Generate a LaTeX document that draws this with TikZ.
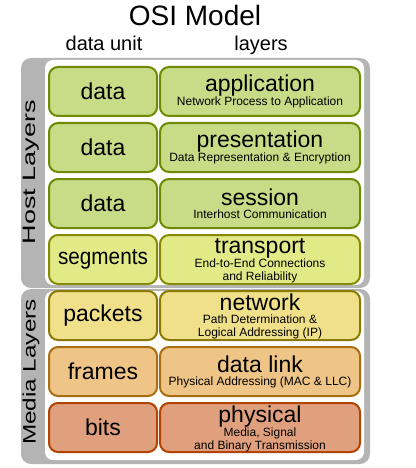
\documentclass[tikz,border=0pt]{standalone}
\usepackage{fontspec}
\setmainfont{Liberation Sans}
\usepackage{tikz}
\usetikzlibrary{positioning}

\definecolor{panelgray}{HTML}{B4B4B4}
\definecolor{appfill}{HTML}{C8DC88}
\definecolor{appline}{HTML}{6E8A00}
\definecolor{trnfill}{HTML}{E2EA88}
\definecolor{trnline}{HTML}{858A00}
\definecolor{netfill}{HTML}{F0E08A}
\definecolor{netline}{HTML}{8A7800}
\definecolor{dlkfill}{HTML}{EEC487}
\definecolor{dlkline}{HTML}{A86E10}
\definecolor{phyfill}{HTML}{E0A07E}
\definecolor{phyline}{HTML}{B04400}

\newcommand{\layertxt}[2]{{\fontsize{23}{17}\selectfont #1}\\#2}

\tikzset{
    unitbox/.style={draw=#1line, fill=#1fill, line width=2pt, rounded corners=9pt,
        minimum width=108pt, minimum height=49pt, inner sep=0pt,
        font=\fontsize{23}{26}\selectfont},
    layerbox/.style={draw=#1line, fill=#1fill, line width=2pt, rounded corners=9pt,
        minimum width=200pt, minimum height=49pt, inner sep=0pt, align=center,
        font=\fontsize{12}{13}\selectfont},
    sidelabel/.style={rotate=90, font=\fontsize{18}{20}\selectfont}
}

\begin{document}
\begin{tikzpicture}[x=1pt, y=-1pt]
    \useasboundingbox (0, 0) rectangle (415, 468);
    % panels
    \fill[panelgray, rounded corners=10pt] (21, 58) rectangle (370, 288);
    \fill[white, rounded corners=8pt] (45, 60) rectangle (364, 285);
    \fill[panelgray, rounded corners=10pt] (21, 289) rectangle (370, 464);
    \fill[white, rounded corners=8pt] (45, 291) rectangle (364, 460);
    % headings
    \node[anchor=base, font=\fontsize{28}{30}\selectfont] (title) at (195, 26) {OSI Model};
    \node[anchor=base, font=\fontsize{20}{22}\selectfont] (unithead) at (104, 51) {data unit};
    \node[anchor=base, font=\fontsize{20}{22}\selectfont] (layerhead) at (261, 51) {layers};
    \node[sidelabel] (host) at (31, 172) {\scalebox{1.5}[1]{Host Layers}};
    \node[sidelabel] (media) at (31, 372) {\scalebox{1.35}[1]{Media Layers}};
    % data units
    \node[unitbox=app] (u7) at (103, 91.5) {data};
    \node[unitbox=app] (u6) at (103, 147.5) {data};
    \node[unitbox=app] (u5) at (103, 203.5) {data};
    \node[unitbox=trn] (u4) at (103, 259.5) {\scalebox{0.9}[1]{segments}};
    \node[unitbox=net] (u3) at (103, 315.5) {packets};
    \node[unitbox=dlk] (u2) at (103, 371.5) {frames};
    \node[unitbox=phy] (u1) at (103, 427.5) {bits};
    % layers
    \node[layerbox=app] (l7) at (260, 91.5) {\layertxt{application}{Network Process to Application}};
    \node[layerbox=app] (l6) at (260, 147.5) {\layertxt{presentation}{Data Representation \& Encryption}};
    \node[layerbox=app] (l5) at (260, 203.5) {\layertxt{session}{Interhost Communication}};
    \node[layerbox=trn, text depth=-6pt] (l4) at (260, 259.5) {\layertxt{transport}{End-to-End Connections\\and Reliability}};
    \node[layerbox=net, text depth=-2pt] (l3) at (260, 315.5) {\layertxt{network}{Path Determination \&\\Logical Addressing (IP)}};
    \node[layerbox=dlk] (l2) at (260, 371.5) {\layertxt{data link}{Physical Addressing (MAC \& LLC)}};
    \node[layerbox=phy, text depth=-5pt] (l1) at (260, 427.5) {\layertxt{physical}{Media, Signal\\and Binary Transmission}};
\end{tikzpicture}
\end{document}
